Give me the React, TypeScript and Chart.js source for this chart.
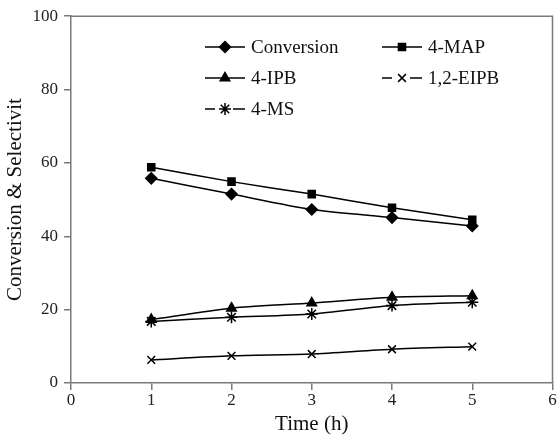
import React, { useEffect, useRef } from "react";
import { Chart, registerables } from "chart.js";
import { drawPoint } from "chart.js/helpers";

Chart.register(...registerables);

const times = [1, 2, 3, 4, 5];
const conversion = [55.8, 51.5, 47.3, 45.1, 42.8];
const map4 = [58.8, 54.9, 51.5, 47.8, 44.5];
const ipb4 = [17.3, 20.4, 21.8, 23.4, 23.8];
const eipb12 = [6.3, 7.4, 7.9, 9.2, 9.9];
const ms4 = [16.8, 17.9, 18.8, 21.1, 22.0];

const seriesNames = ["Conversion", "4-MAP", "4-IPB", "1,2-EIPB", "4-MS"];
const xTitle = "Time (h)";
const yTitle = "Conversion & Selectivit";

const FONT = "'Liberation Serif', 'Times New Roman', serif";
const AXIS_COLOR = "#7a7a7a";

const styles = [
  { pointStyle: "rectRot", radius: 5.5, gap: false },
  { pointStyle: "rect", radius: 5, gap: false },
  { pointStyle: "triangle", radius: 5.5, gap: false },
  { pointStyle: "crossRot", radius: 5.5, gap: true },
  { pointStyle: "star", radius: 6, gap: true },
];

const legendLayout = [
  { x: 205, y: 47 },
  { x: 382, y: 47 },
  { x: 205, y: 78 },
  { x: 382, y: 78 },
  { x: 205, y: 109 },
];

const insideLegend = {
  id: "insideLegend",
  afterDraw(chart: any) {
    const ctx = chart.ctx;
    ctx.save();
    chart.data.datasets.forEach((ds: any, i: number) => {
      const pos = legendLayout[i];
      const st = styles[i];
      ctx.strokeStyle = "#000";
      ctx.lineWidth = 1.5;
      ctx.beginPath();
      if (st.gap) {
        ctx.moveTo(pos.x, pos.y);
        ctx.lineTo(pos.x + 10, pos.y);
        ctx.moveTo(pos.x + 28, pos.y);
        ctx.lineTo(pos.x + 40, pos.y);
      } else {
        ctx.moveTo(pos.x, pos.y);
        ctx.lineTo(pos.x + 40, pos.y);
      }
      ctx.stroke();
      ctx.fillStyle = "#000";
      drawPoint(
        ctx,
        {
          pointStyle: st.pointStyle,
          radius: st.radius,
          rotation: 0,
          borderWidth: 1.5,
        } as any,
        pos.x + 20,
        pos.y
      );
      ctx.fillStyle = "#111";
      ctx.font = `19px ${FONT}`;
      ctx.textAlign = "left";
      ctx.textBaseline = "middle";
      ctx.fillText(ds.label, pos.x + 46, pos.y + 1);
    });
    ctx.restore();
  },
};

const frameBox = {
  id: "frameBox",
  afterDraw(chart: any) {
    const { ctx, chartArea } = chart;
    ctx.save();
    ctx.strokeStyle = AXIS_COLOR;
    ctx.lineWidth = 1.5;
    ctx.beginPath();
    ctx.moveTo(chartArea.left, chartArea.top);
    ctx.lineTo(chartArea.right, chartArea.top);
    ctx.lineTo(chartArea.right, chartArea.bottom);
    ctx.stroke();
    ctx.restore();
  },
};

export default function App() {
  const canvasRef = useRef<HTMLCanvasElement | null>(null);

  useEffect(() => {
    if (!canvasRef.current) return;
    const values = [conversion, map4, ipb4, eipb12, ms4];
    const datasets = values.map((vals, i) => ({
      label: seriesNames[i],
      data: times.map((t, j) => ({ x: t, y: vals[j] })),
      borderColor: "#000",
      backgroundColor: "#000",
      borderWidth: 1.5,
      pointStyle: styles[i].pointStyle,
      pointRadius: styles[i].radius,
      pointBorderWidth: 1.5,
      pointBorderColor: "#000",
      pointBackgroundColor: "#000",
      tension: 0.25,
      fill: false,
    }));

    const chart = new Chart(canvasRef.current, {
      type: "line",
      data: { datasets },
      plugins: [insideLegend, frameBox],
      options: {
        responsive: false,
        animation: false,
        layout: { padding: { top: 16, right: 5, left: 0, bottom: 0 } },
        plugins: {
          legend: { display: false },
          tooltip: { enabled: false },
        },
        scales: {
          x: {
            type: "linear",
            min: 0,
            max: 6,
            afterFit: (scale: any) => {
              scale.height = 54;
            },
            ticks: {
              stepSize: 1,
              color: "#222",
              font: { family: FONT, size: 17 },
              padding: 0,
            },
            grid: {
              display: true,
              drawOnChartArea: false,
              drawTicks: true,
              tickLength: 7,
              color: AXIS_COLOR,
              lineWidth: 1.5,
            },
            border: { display: true, color: AXIS_COLOR, width: 1.5 },
            title: {
              display: true,
              text: xTitle,
              color: "#111",
              font: { family: FONT, size: 21 },
              padding: { top: 0, bottom: 0 },
            },
          },
          y: {
            type: "linear",
            min: 0,
            max: 100,
            afterFit: (scale: any) => {
              scale.width = 71;
            },
            ticks: {
              stepSize: 20,
              color: "#222",
              font: { family: FONT, size: 17 },
              padding: 6,
            },
            grid: {
              display: true,
              drawOnChartArea: false,
              drawTicks: true,
              tickLength: 7,
              color: AXIS_COLOR,
              lineWidth: 1.5,
            },
            border: { display: true, color: AXIS_COLOR, width: 1.5 },
            title: {
              display: true,
              text: yTitle,
              color: "#111",
              font: { family: FONT, size: 21 },
              padding: { top: 3, bottom: 0 },
            },
          },
        },
      },
    });
    return () => chart.destroy();
  }, []);

  return (
    <div style={{ position: "fixed", left: 0, top: 0, width: 560, height: 437, background: "#fff" }}>
      <canvas ref={canvasRef} width={560} height={437} />
    </div>
  );
}
